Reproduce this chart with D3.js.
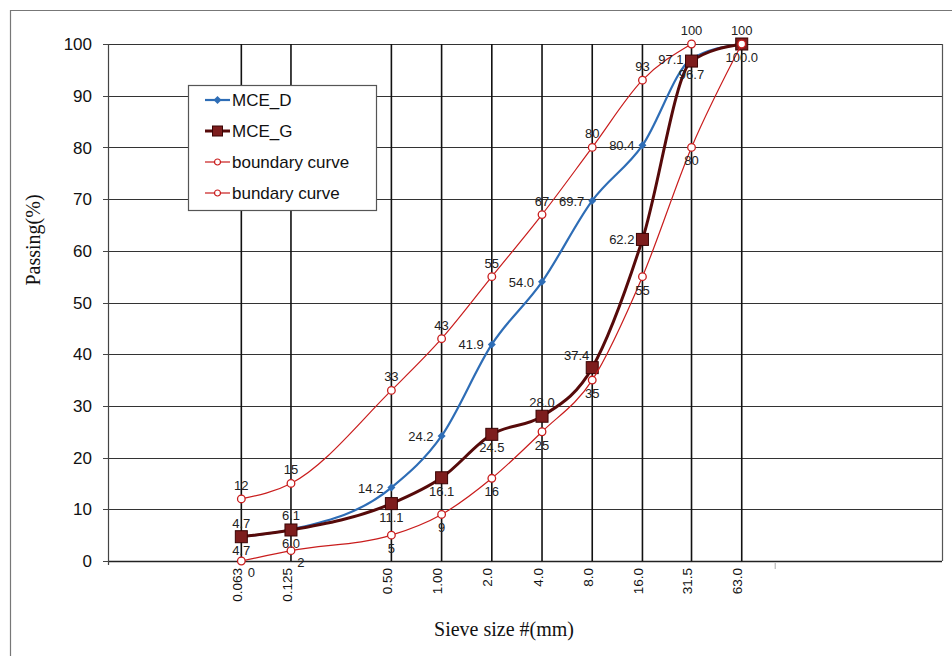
<!DOCTYPE html>
<html lang="en">
<head>
  <meta charset="UTF-8">
  <title>Sieve grading</title>
  <script src="https://d3js.org/d3.v7.min.js"></script>
  <style>
    body { margin: 0; background: #fff; }
    svg { display: block; }
    .tick-y { font: 17px "Liberation Sans", Arial, sans-serif; fill: #111; }
    .tick-x { font: 13.5px "Liberation Sans", Arial, sans-serif; fill: #111; }
    .lbl { font: 13px "Liberation Sans", Arial, sans-serif; fill: #222; }
    .title { font: 20px "Liberation Serif", "Times New Roman", serif; fill: #111; }
    .legend text { font: 17px "Liberation Sans", Arial, sans-serif; fill: #111; }
  </style>
</head>
<body>
  <svg width="952" height="656"></svg>

  <script>
    const width = 952;
    const height = 656;

    // sieve sizes (mm) and their printed labels
    const sieves = [0.063, 0.125, 0.5, 1, 2, 4, 8, 16, 31.5, 63];
    const sieveLabels = ["0.063", "0.125", "0.50", "1.00", "2.0", "4.0", "8.0", "16.0", "31.5", "63.0"];
    const yTicks = [0, 10, 20, 30, 40, 50, 60, 70, 80, 90, 100];

    // passing (%)
    const mceD = [4.7, 6.1, 14.2, 24.2, 41.9, 54.0, 69.7, 80.4, 97.1, 100];
    const mceG = [4.7, 6.0, 11.1, 16.1, 24.5, 28.0, 37.4, 62.2, 96.7, 100];
    const upper = [12, 15, 33, 43, 55, 67, 80, 93, 100, null];
    const lower = [0, 2, 5, 9, 16, 25, 35, 55, 80, 100];

    const svg = d3.select("svg").attr("width", width).attr("height", height);

    const x = d3.scaleLog().domain([0.01, 1000]).range([108, 942]);
    const y = d3.scaleLinear().domain([0, 100]).range([561, 44]);

    // outer frame
    svg.append("path")
       .attr("d", `M10.5,${height} V10.5 H${width}`)
       .attr("fill", "none").attr("stroke", "#777").attr("stroke-width", 1.2);

    // horizontal grid
    svg.append("g").selectAll("line").data(yTicks).join("line")
       .attr("x1", 108).attr("x2", 942)
       .attr("y1", d => Math.round(y(d)) + 0.5).attr("y2", d => Math.round(y(d)) + 0.5)
       .attr("stroke", d => d === 0 ? "#222" : "#333").attr("stroke-width", d => d === 0 ? 1.6 : 1.2);

    // vertical grid at sieve sizes
    svg.append("g").selectAll("line").data(sieves).join("line")
       .attr("x1", d => x(d)).attr("x2", d => x(d))
       .attr("y1", y(0)).attr("y2", y(100))
       .attr("stroke", "#111").attr("stroke-width", 1.6);

    // frame lines: y axis and right border
    svg.append("line").attr("x1", 108.5).attr("x2", 108.5).attr("y1", y(100)).attr("y2", y(0) + 4)
       .attr("stroke", "#444").attr("stroke-width", 1.2);
    svg.append("line").attr("x1", 942.5).attr("x2", 942.5).attr("y1", y(100)).attr("y2", y(0))
       .attr("stroke", "#555").attr("stroke-width", 1.2);
    // stray tick below the axis at 100 mm
    svg.append("line").attr("x1", x(100)).attr("x2", x(100)).attr("y1", y(0) + 2).attr("y2", y(0) + 8)
       .attr("stroke", "#aaa").attr("stroke-width", 1);

    // y ticks
    const yAxis = svg.append("g");
    yAxis.selectAll("line").data(yTicks).join("line")
       .attr("x1", 103).attr("x2", 108)
       .attr("y1", d => Math.round(y(d)) + 0.5).attr("y2", d => Math.round(y(d)) + 0.5)
       .attr("stroke", "#444");
    yAxis.selectAll("text").data(yTicks).join("text")
       .attr("class", "tick-y")
       .attr("x", 92).attr("y", d => y(d)).attr("dy", "0.36em")
       .attr("text-anchor", "end")
       .text(d => d);

    // x tick labels (rotated)
    svg.append("g").selectAll("text").data(sieves).join("text")
       .attr("class", "tick-x")
       .attr("transform", d => `translate(${x(d)},${y(0) + 7}) rotate(-90)`)
       .attr("text-anchor", "end")
       .attr("dy", "0.05em")
       .text((d, i) => sieveLabels[i]);

    // axis titles
    svg.append("text").attr("class", "title")
       .attr("transform", "translate(40,240) rotate(-90)")
       .attr("text-anchor", "middle")
       .text("Passing(%)");
    svg.append("text").attr("class", "title")
       .attr("x", 504).attr("y", 636)
       .attr("text-anchor", "middle")
       .text("Sieve size #(mm)");

    const series = [
      { name: "MCE_D", values: mceD, color: "#2e6db6", width: 2.2, marker: "diamond" },
      { name: "MCE_G", values: mceG, color: "#560a0a", width: 3, marker: "square" },
      { name: "boundary curve", values: upper, color: "#c91d1d", width: 1.2, marker: "circle" },
      { name: "bundary curve", values: lower, color: "#c91d1d", width: 1.2, marker: "circle" }
    ];

    // where each data label sits relative to its point
    const labelSide = {
      "MCE_D": ["t", "t", "l", "l", "l", "l", "l", "l", "l", null],
      "MCE_G": ["b", "b", "b", "b", "b", "t", "tl", "l", "b", "b"],
      "boundary curve": ["t", "t", "t", "t", "t", "t", "t", "t", "t", null],
      "bundary curve": ["br", "br", "b", "b", "b", "b", "b", "b", "b", "t"]
    };

    const line = d3.line()
       .defined(d => d.v != null)
       .x(d => x(d.s)).y(d => y(d.v))
       .curve(d3.curveMonotoneX);

    function drawMarker(g, type, color) {
      if (type === "diamond") {
        g.append("path").attr("d", "M0,-4 L4,0 L0,4 L-4,0 Z").attr("fill", color);
      } else if (type === "square") {
        g.append("rect").attr("x", -6).attr("y", -6).attr("width", 12).attr("height", 12)
         .attr("fill", "#7d1d1d").attr("stroke", "#3a0404").attr("stroke-width", 1);
      } else {
        g.append("circle").attr("r", 3.8).attr("fill", "#fff")
         .attr("stroke", color).attr("stroke-width", 1.3);
      }
    }

    series.forEach(s => {
      const pts = sieves.map((sv, i) => ({ s: sv, v: s.values[i], i }));
      svg.append("path").datum(pts)
         .attr("d", line)
         .attr("fill", "none").attr("stroke", s.color).attr("stroke-width", s.width);
      pts.filter(p => p.v != null).forEach(p => {
        const g = svg.append("g").attr("transform", `translate(${x(p.s)},${y(p.v)})`);
        drawMarker(g, s.marker, s.color);
      });
    });

    // data labels
    const fmt1 = d3.format(".1f");
    series.forEach(s => {
      const dec = s.marker !== "circle";
      sieves.forEach((sv, i) => {
        const v = s.values[i];
        const side = labelSide[s.name][i];
        if (v == null || !side) return;
        let dx = 0, dy = 0, anchor = "middle";
        if (side === "t") { dy = -9; }
        if (side === "b") { dy = 18; }
        if (side === "l") { dx = -8; dy = 5; anchor = "end"; }
        if (side === "tl") { dx = -3; dy = -8; anchor = "end"; }
        if (side === "br") { dx = 10; dy = 16; }
        svg.append("text").attr("class", "lbl")
           .attr("x", x(sv) + dx).attr("y", y(v) + dy)
           .attr("text-anchor", anchor)
           .text(dec ? fmt1(v) : v);
      });
    });

    // legend
    const lg = svg.append("g").attr("class", "legend");
    lg.append("rect").attr("x", 188.5).attr("y", 85.5).attr("width", 188).attr("height", 125)
      .attr("fill", "#fff").attr("stroke", "#555").attr("stroke-width", 1.2);
    series.forEach((s, i) => {
      const ly = 100 + i * 31;
      lg.append("line").attr("x1", 205).attr("x2", 230).attr("y1", ly).attr("y2", ly)
        .attr("stroke", s.color).attr("stroke-width", s.width);
      const g = lg.append("g").attr("transform", `translate(217.5,${ly})`);
      if (s.marker === "square") {
        g.append("rect").attr("x", -5).attr("y", -5).attr("width", 10).attr("height", 10)
         .attr("fill", "#7d1d1d").attr("stroke", "#3a0404");
      } else if (s.marker === "diamond") {
        g.append("path").attr("d", "M0,-4 L4,0 L0,4 L-4,0 Z").attr("fill", s.color);
      } else {
        g.append("circle").attr("r", 3).attr("fill", "#fff").attr("stroke", s.color).attr("stroke-width", 1.2);
      }
      lg.append("text").attr("x", 232).attr("y", ly).attr("dy", "0.36em").text(s.name);
    });
  </script>
</body>
</html>
